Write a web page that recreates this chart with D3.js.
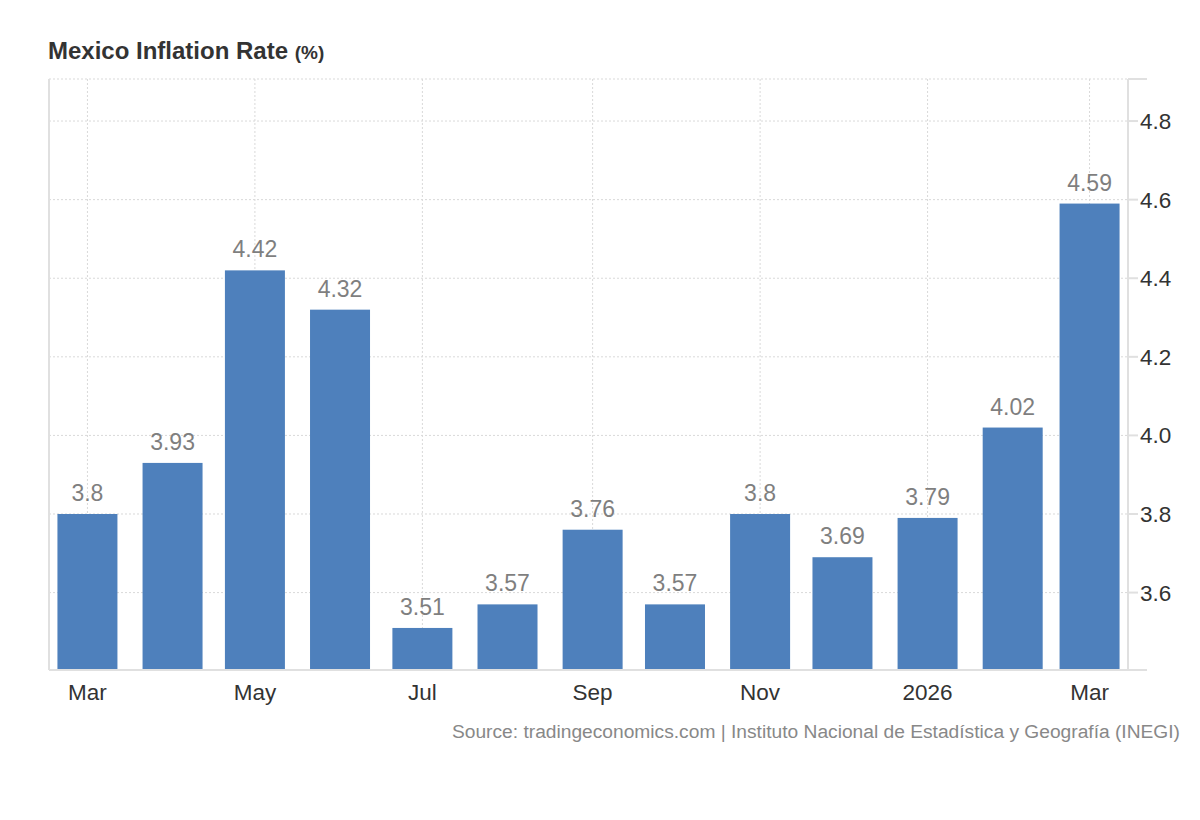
<!DOCTYPE html>
<html>
<head>
<meta charset="utf-8">
<title>Mexico Inflation Rate</title>
<script src="https://cdn.jsdelivr.net/npm/d3@7"></script>
<style>
  body { margin: 0; background: #fff; font-family: "Liberation Sans", Arial, sans-serif; }
  .grid line { stroke: #d9d9d9; stroke-dasharray: 2,2; }
  .frame { stroke: #e0e0e0; stroke-width: 2; }
  .bar { fill: #4e80bc; }
  .vlabel { fill: #7f7f7f; font-size: 23px; text-anchor: middle; }
  .tick-label { fill: #333; font-size: 22.5px; }
</style>
</head>
<body>
<svg id="chart" width="1200" height="820"></svg>
<script>
// monthly data, Mar 2025 .. Mar 2026
var months = ["2025-03","2025-04","2025-05","2025-06","2025-07","2025-08","2025-09",
              "2025-10","2025-11","2025-12","2026-01","2026-02","2026-03"];
var rates = [3.8, 3.93, 4.42, 4.32, 3.51, 3.57, 3.76, 3.57, 3.8, 3.69, 3.79, 4.02, 4.59];
var yTicks = [3.6, 3.8, 4.0, 4.2, 4.4, 4.6, 4.8];
var xTickMonths = ["2025-03","2025-05","2025-07","2025-09","2025-11","2026-01","2026-03"];
var xTickLabels = ["Mar","May","Jul","Sep","Nov","2026","Mar"];

var parse = d3.timeParse("%Y-%m");
var dates = months.map(parse);

var pLeft = 49, pRight = 1128, pTop = 79, pBottom = 670;
var svg = d3.select("#chart");

var x = d3.scaleTime()
  .domain([d3.timeDay.offset(dates[0], -13.7), d3.timeDay.offset(dates[dates.length-1], 14.5)])
  .range([pLeft, pRight]);
var y = d3.scaleLinear().domain([3.403, 4.907]).range([pBottom, pTop]);

// grid
var grid = svg.append("g").attr("class", "grid");
grid.selectAll("line.h").data(yTicks.concat([4.907])).enter().append("line")
  .attr("x1", pLeft).attr("x2", pRight)
  .attr("y1", function(d) { return y(d); }).attr("y2", function(d) { return y(d); });
grid.selectAll("line.v").data(xTickMonths.map(parse)).enter().append("line")
  .attr("x1", function(d) { return x(d); }).attr("x2", function(d) { return x(d); })
  .attr("y1", pTop).attr("y2", pBottom);

// bars
var barW = 60;
svg.selectAll("rect.bar").data(rates).enter().append("rect")
  .attr("class", "bar")
  .attr("x", function(d, i) { return x(dates[i]) - barW/2; })
  .attr("width", barW)
  .attr("y", function(d) { return y(d); })
  .attr("height", function(d) { return pBottom - y(d); });

svg.selectAll("text.vlabel").data(rates).enter().append("text")
  .attr("class", "vlabel")
  .attr("x", function(d, i) { return x(dates[i]); })
  .attr("y", function(d) { return y(d) - 13; })
  .text(function(d) { return d; });

// frame lines
svg.append("line").attr("class", "frame").attr("x1", pLeft).attr("x2", pLeft).attr("y1", pTop).attr("y2", pBottom);
svg.append("line").attr("class", "frame").attr("x1", pRight).attr("x2", pRight).attr("y1", pTop).attr("y2", pBottom);
svg.append("line").attr("class", "frame").attr("x1", pLeft).attr("x2", 1147).attr("y1", pBottom).attr("y2", pBottom);
svg.append("line").attr("class", "frame").attr("x1", pRight).attr("x2", 1147).attr("y1", pTop).attr("y2", pTop);

// right axis
var yAxis = svg.append("g");
yAxis.selectAll("line").data(yTicks).enter().append("line")
  .attr("class", "frame")
  .attr("x1", pRight).attr("x2", 1138)
  .attr("y1", function(d) { return y(d); }).attr("y2", function(d) { return y(d); });
yAxis.selectAll("text").data(yTicks).enter().append("text")
  .attr("class", "tick-label")
  .attr("x", 1140)
  .attr("y", function(d) { return y(d) + 8; })
  .text(function(d) { return d3.format(".1f")(d); });

// bottom axis labels
svg.append("g").selectAll("text").data(xTickMonths).enter().append("text")
  .attr("class", "tick-label")
  .attr("text-anchor", "middle")
  .attr("x", function(d) { return x(parse(d)); })
  .attr("y", 700)
  .text(function(d, i) { return xTickLabels[i]; });

// title
var title = svg.append("text").attr("x", 48).attr("y", 59)
  .attr("fill", "#333").attr("font-weight", "bold").attr("font-size", "24px");
title.append("tspan").text("Mexico Inflation Rate ");
title.append("tspan").attr("font-size", "19px").text("(%)");

// source
svg.append("text").attr("x", 1180).attr("y", 738)
  .attr("text-anchor", "end").attr("fill", "#888").attr("font-size", "19.2px")
  .text("Source: tradingeconomics.com | Instituto Nacional de Estadística y Geografía (INEGI)");
</script>
</body>
</html>
